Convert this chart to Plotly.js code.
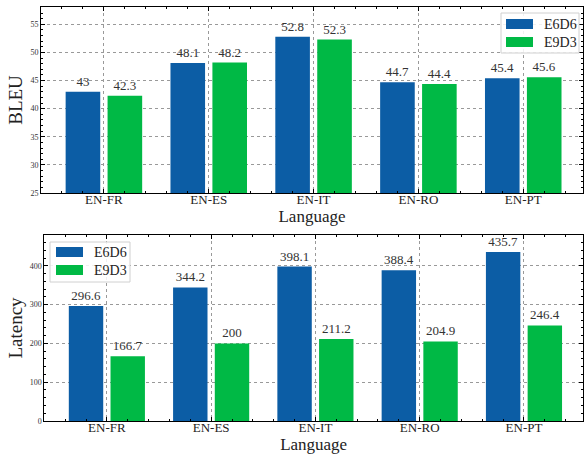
<!DOCTYPE html>
<html><head><meta charset="utf-8">
<script src="https://cdn.plot.ly/plotly-3.0.1.min.js"></script>
<style>html,body{margin:0;padding:0;background:#fff}#c{width:584px;height:455px}</style>
</head><body><div id="c"></div>
<script>
var categories = ["EN-FR", "EN-ES", "EN-IT", "EN-RO", "EN-PT"];
var seriesNames = ["E6D6", "E9D3"];
var bleuE6D6 = [43, 48.1, 52.8, 44.7, 45.4];
var bleuE9D3 = [42.3, 48.2, 52.3, 44.4, 45.6];
var latE6D6 = [296.6, 344.2, 398.1, 388.4, 435.7];
var latE9D3 = [166.7, 200, 211.2, 204.9, 246.4];
var bleuTicks = [25, 30, 35, 40, 45, 50, 55];
var latTicks = [0, 100, 200, 300, 400];

var BLUE = "#0C5DA5", GREEN = "#00B945";
var W = 584, H = 455;
function px(x){return x / W;}
function py(y){return 1 - y / H;}
var xpos = categories.map(function(_, i){return i;});
var serif = "'Liberation Serif', 'DejaVu Serif', serif";

function bar(vals, name, color, off, xa, ya){
  return {type: "bar", x: xpos, y: vals, name: name, marker: {color: color},
    width: 0.33, offset: off, xaxis: xa, yaxis: ya, showlegend: false,
    text: vals.map(String), textposition: "outside", cliponaxis: false,
    textfont: {family: serif, size: 13, color: "#333"}, hoverinfo: "x+y"};
}
var data = [
  bar(bleuE6D6, seriesNames[0], BLUE, -0.365, "x", "y"),
  bar(bleuE9D3, seriesNames[1], GREEN, 0.035, "x", "y"),
  bar(latE6D6, seriesNames[0], BLUE, -0.365, "x2", "y2"),
  bar(latE9D3, seriesNames[1], GREEN, 0.035, "x2", "y2")
];

function xaxis(dom, anchor){
  return {domain: dom, anchor: anchor, range: [-0.6, 4.57], tickvals: xpos, ticktext: categories,
    tickfont: {family: serif, size: 13, color: "#222"}, ticks: "inside", ticklen: 4, tickcolor: "#000",
    ticklabelstandoff: -6,
    showline: true, linecolor: "#000", linewidth: 1, mirror: "allticks",
    showgrid: true, gridcolor: "#999", griddash: "dot", gridwidth: 1, zeroline: false,
    minor: {dtick: 0.2, tick0: 0, ticks: "inside", ticklen: 2, tickcolor: "#000", showgrid: false},
    title: {text: "Language", font: {family: serif, size: 17, color: "#222"}, standoff: 2}};
}
function yaxis(dom, anchor, rng, tv, minorD, title){
  return {domain: dom, anchor: anchor, range: rng, tickvals: tv,
    tickfont: {family: serif, size: 8, color: "#333"}, ticks: "inside", ticklen: 4, tickcolor: "#000",
    showline: true, linecolor: "#000", linewidth: 1, mirror: "allticks",
    showgrid: true, gridcolor: "#999", griddash: "dot", gridwidth: 1, zeroline: false,
    minor: {dtick: minorD, tick0: rng[0], ticks: "inside", ticklen: 2, tickcolor: "#000", showgrid: false},
    title: {text: title, font: {family: serif, size: 19, color: "#222"}, standoff: 2}};
}

var shapes = [], annotations = [];
function legend(x0, y0, x1, y1, sw){
  shapes.push({type: "rect", xref: "paper", yref: "paper", x0: px(x0), x1: px(x1), y0: py(y1), y1: py(y0),
    line: {color: "#d0d0d0", width: 1}, fillcolor: "rgba(255,255,255,0.85)", layer: "above"});
  sw.forEach(function(s, i){
    shapes.push({type: "rect", xref: "paper", yref: "paper", x0: px(s.x), x1: px(s.x + 27),
      y0: py(s.y + 5), y1: py(s.y - 5), line: {width: 0}, fillcolor: s.c, layer: "above"});
    annotations.push({xref: "paper", yref: "paper", x: px(s.x + 36), y: py(s.y), xanchor: "left", yanchor: "middle",
      text: seriesNames[i], showarrow: false, font: {family: serif, size: 14, color: "#222"}});
  });
}
legend(501, 13, 579, 53, [{x: 506, y: 24, c: BLUE}, {x: 506, y: 42, c: GREEN}]);
legend(50, 242, 130, 282, [{x: 56, y: 252, c: BLUE}, {x: 56, y: 270, c: GREEN}]);

var layout = {
  width: W, height: H, margin: {l: 0, r: 0, t: 0, b: 0}, paper_bgcolor: "#fff", plot_bgcolor: "#fff",
  barmode: "overlay", showlegend: false, font: {family: serif},
  xaxis: xaxis([px(41), px(583)], "y"),
  yaxis: yaxis([py(193), py(7)], "x", [25, 58.08], bleuTicks, 1, "BLEU"),
  xaxis2: xaxis([px(44.3), px(583)], "y2"),
  yaxis2: yaxis([py(421), py(235)], "x2", [0, 479.3], latTicks, 20, "Latency"),
  shapes: shapes, annotations: annotations
};
layout.xaxis2.range = [-0.6, 4.566];
Plotly.newPlot("c", data, layout, {staticPlot: true});
</script></body></html>
